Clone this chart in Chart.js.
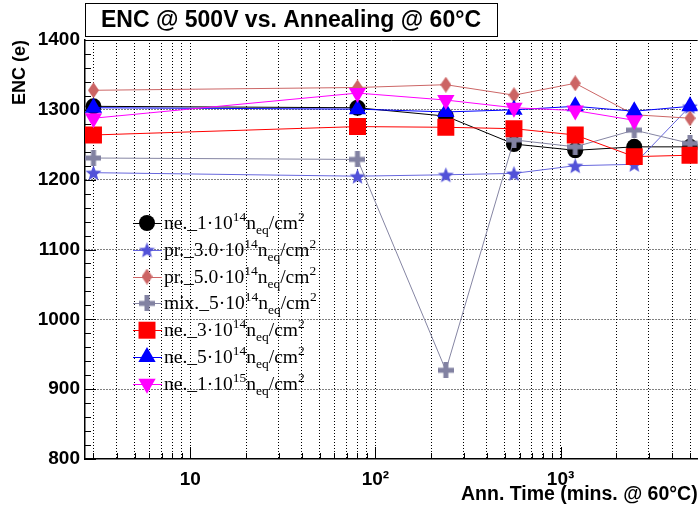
<!DOCTYPE html>
<html>
<head>
<meta charset="utf-8">
<title>ENC vs. Annealing</title>
<script src="https://cdn.jsdelivr.net/npm/chart.js@4.4.1/dist/chart.umd.min.js"></script>
<style>
  html, body { margin: 0; padding: 0; background: #fff; }
  #wrap { width: 699px; height: 508px; overflow: hidden; }
</style>
</head>
<body>
<div id="wrap"><canvas id="encChart" width="699" height="508"></canvas></div>
<script>
// annealing time in minutes at 60 C
const annTimes = [3, 80, 240, 560, 1200, 2500, 5000];

// ENC (electrons) at 500 V for each sample
const encNe1e14  = [1305, 1303, 1291, 1251, 1242, 1247, 1247];
const encPr3e14  = [1210, 1205, 1207, 1209, 1220, 1222, 1305];
const encPr5e14  = [1328, 1332, 1336, 1321, 1338, 1293, 1288];
const encMix5e14 = [1231, 1229, 927, 1257, 1247, 1271, 1252];
const encNe3e14  = [1264, 1276, 1275, 1273, 1264, 1233, 1235];
const encNe5e14  = [1303, 1301, 1297, 1300, 1305, 1298, 1305];
const encNe1e15  = [1288, 1324, 1314, 1303, 1299, 1285];

const seriesNames = [
  'ne._1\u00b710^{14}n_{eq}/cm^{2}',
  'pr._3.0\u00b710^{14}n_{eq}/cm^{2}',
  'pr._5.0\u00b710^{14}n_{eq}/cm^{2}',
  'mix._5\u00b710^{14}n_{eq}/cm^{2}',
  'ne._3\u00b710^{14}n_{eq}/cm^{2}',
  'ne._5\u00b710^{14}n_{eq}/cm^{2}',
  'ne._1\u00b710^{15}n_{eq}/cm^{2}'
];

const yMin = 800, yMax = 1400, yStep = 100, yMinorStep = 20;
const xMin = 2.7, xMax = 5500;
const xMajorLabels = { 10: '10', 100: '10\u00b2', 1000: '10\u00b3' };

// tick/grid positions of the log axis: 1..9 x each decade
const xGridTicks = [];
[1, 10, 100, 1000].forEach(d => {
  for (let m = 1; m < 10; m++) {
    const v = m * d;
    if (v >= xMin && v <= xMax) xGridTicks.push(v);
  }
});

// filled markers that chart.js does not have
function markerCanvas(w, h, color, draw) {
  const c = document.createElement('canvas');
  c.width = w; c.height = h;
  const g = c.getContext('2d');
  g.fillStyle = color;
  draw(g, w, h);
  return c;
}
const starImg = markerCanvas(17, 17, '#5252d8', (g, w, h) => {
  g.beginPath();
  for (let i = 0; i < 10; i++) {
    const r = i % 2 ? 3.6 : 8.4;
    const a = -Math.PI / 2 + i * Math.PI / 5;
    g.lineTo(w / 2 + r * Math.cos(a), h / 2 + 0.8 + r * Math.sin(a));
  }
  g.closePath();
  g.fill();
});
const diamondImg = markerCanvas(11, 16, '#cc6464', (g, w, h) => {
  g.beginPath();
  g.moveTo(w / 2, 0); g.lineTo(w, h / 2); g.lineTo(w / 2, h); g.lineTo(0, h / 2);
  g.closePath();
  g.fill();
});
const crossImg = markerCanvas(16, 16, '#8282a2', (g, w, h) => {
  g.fillRect(5.5, 0, 5, h);
  g.fillRect(0, 5.5, w, 5);
});

const seriesStyle = [
  { values: encNe1e14,  color: '#000000', line: '#000000', pointStyle: 'circle', radius: 8 },
  { values: encPr3e14,  color: '#5252d8', line: '#6767dd', pointStyle: starImg, radius: 8 },
  { values: encPr5e14,  color: '#cc6464', line: '#cc6666', pointStyle: diamondImg, radius: 8 },
  { values: encMix5e14, color: '#8282a2', line: '#8585a3', pointStyle: crossImg, radius: 8 },
  { values: encNe3e14,  color: '#ff0000', line: '#ff0000', pointStyle: 'rect', radius: 12 },
  { values: encNe5e14,  color: '#0000ff', line: '#0000ff', pointStyle: 'triangle', radius: 10 },
  { values: encNe1e15,  color: '#ff00ff', line: '#ff00ff', pointStyle: 'triangle', radius: 10, rotation: 180 }
];

const datasets = seriesStyle.map((s, i) => ({
  label: seriesNames[i],
  data: s.values.map((v, k) => ({ x: annTimes[k], y: v })),
  borderColor: s.line,
  borderWidth: 1,
  backgroundColor: s.color,
  pointStyle: s.pointStyle,
  pointRadius: s.radius,
  pointRotation: s.rotation || 0,
  pointBackgroundColor: s.color,
  pointBorderColor: s.color,
  pointBorderWidth: 0,
  tension: 0,
  fill: false,
  order: -i
}));

// split "a^{b}c_{d}" into normal / superscript / subscript pieces
function parseRich(s) {
  const parts = [];
  let i = 0, buf = '';
  while (i < s.length) {
    const c = s[i];
    if ((c === '^' || c === '_') && s[i + 1] === '{') {
      if (buf) { parts.push({ t: buf, k: 'n' }); buf = ''; }
      const j = s.indexOf('}', i);
      parts.push({ t: s.slice(i + 2, j), k: c === '^' ? 'sup' : 'sub' });
      i = j + 1;
    } else {
      buf += c;
      i++;
    }
  }
  if (buf) parts.push({ t: buf, k: 'n' });
  return parts;
}

function drawRich(ctx, text, x, y) {
  let cx = x;
  parseRich(text).forEach(p => {
    let dy = 0;
    if (p.k === 'n') {
      ctx.font = '19.5px "Liberation Serif"';
    } else {
      ctx.font = '13.5px "Liberation Serif"';
      dy = p.k === 'sup' ? -8 : 5;
    }
    ctx.fillText(p.t, cx, y + dy);
    cx += ctx.measureText(p.t).width;
  });
}

const frameDecor = {
  id: 'frameDecor',
  beforeDatasetsDraw(chart) {
    const { ctx, chartArea: a, scales: { x, y } } = chart;
    ctx.save();
    ctx.strokeStyle = '#000';
    ctx.lineWidth = 1;
    ctx.beginPath();
    // inward ticks on the left axis
    for (let v = yMin; v <= yMax; v += yMinorStep) {
      const py = Math.round(y.getPixelForValue(v)) + 0.5;
      const len = v % yStep === 0 ? 11 : 6;
      ctx.moveTo(a.left, py);
      ctx.lineTo(a.left + len, py);
    }
    // inward ticks on the bottom axis
    xGridTicks.forEach(v => {
      const px = Math.round(x.getPixelForValue(v)) + 0.5;
      const len = xMajorLabels[v] ? 12 : 6;
      ctx.moveTo(px, a.bottom);
      ctx.lineTo(px, a.bottom - len);
    });
    // top edge of the frame
    ctx.moveTo(a.left, a.top + 0.5);
    ctx.lineTo(a.right, a.top + 0.5);
    ctx.stroke();
    ctx.restore();
  },
  afterDraw(chart) {
    const ctx = chart.ctx;
    ctx.save();

    // title box
    ctx.fillStyle = '#fff';
    ctx.fillRect(85.5, 3.5, 412, 33);
    ctx.strokeStyle = '#000';
    ctx.lineWidth = 1;
    ctx.strokeRect(85.5, 3.5, 412, 33);
    ctx.fillStyle = '#000';
    ctx.font = 'bold 23px "Liberation Sans"';
    ctx.textAlign = 'center';
    ctx.textBaseline = 'middle';
    ctx.fillText('ENC @ 500V vs. Annealing @ 60\u00b0C', 291, 21);

    // legend
    ctx.textAlign = 'left';
    ctx.textBaseline = 'alphabetic';
    chart.data.datasets.forEach((ds, i) => {
      const ly = 223 + i * 26.8;
      ctx.strokeStyle = ds.borderColor;
      ctx.lineWidth = 1;
      ctx.beginPath();
      ctx.moveTo(133, Math.round(ly) + 0.5);
      ctx.lineTo(162, Math.round(ly) + 0.5);
      ctx.stroke();
      ctx.fillStyle = ds.pointBackgroundColor;
      ctx.strokeStyle = ds.pointBorderColor;
      Chart.helpers.drawPoint(ctx, {
        pointStyle: ds.pointStyle,
        rotation: ds.pointRotation,
        radius: ds.pointRadius,
        borderWidth: 0
      }, 147, ly);
      ctx.fillStyle = '#000';
      drawRich(ctx, ds.label, 164, ly + 6);
    });
    ctx.restore();
  }
};

const axisFont = { family: '"Liberation Sans"', size: 19, weight: 'bold' };

new Chart(document.getElementById('encChart'), {
  type: 'line',
  data: { datasets },
  options: {
    responsive: false,
    animation: false,
    layout: { autoPadding: false, padding: { top: 40, left: 0, right: 0, bottom: 0 } },
    plugins: {
      legend: { display: false },
      tooltip: { enabled: false },
      title: { display: false }
    },
    scales: {
      x: {
        type: 'logarithmic',
        min: xMin,
        max: xMax,
        afterBuildTicks: s => { s.ticks = xGridTicks.map(v => ({ value: v })); },
        afterFit: s => { s.height = 49; },
        ticks: {
          autoSkip: false,
          maxRotation: 0,
          padding: 9,
          color: '#000',
          font: axisFont,
          callback: v => xMajorLabels[v] || ''
        },
        grid: { color: '#000', lineWidth: 1, drawTicks: false },
        border: { display: true, color: '#000', width: 1.5, dash: [1, 2] },
        title: {
          display: true,
          text: 'Ann. Time (mins. @ 60\u00b0C)',
          align: 'end',
          color: '#000',
          font: { family: '"Liberation Sans"', size: 19.5, weight: 'bold' },
          padding: { top: 0, bottom: 2 }
        }
      },
      y: {
        min: yMin,
        max: yMax,
        afterFit: s => { s.width = 85; },
        ticks: {
          stepSize: yStep,
          padding: 5,
          color: '#000',
          font: axisFont,
          callback: v => String(v)
        },
        grid: {
          color: c => (c.tick && (c.tick.value === yMin || c.tick.value === yMax)) ? 'rgba(0,0,0,0)' : '#000',
          lineWidth: 1,
          drawTicks: false
        },
        border: { display: true, color: '#000', width: 1.5, dash: [1, 2] },
        title: {
          display: true,
          text: 'ENC (e)',
          align: 'end',
          color: '#000',
          font: { family: '"Liberation Sans"', size: 18, weight: 'bold' },
          padding: { top: 9, bottom: 0 }
        }
      }
    }
  },
  plugins: [frameDecor]
});
</script>
</body>
</html>
